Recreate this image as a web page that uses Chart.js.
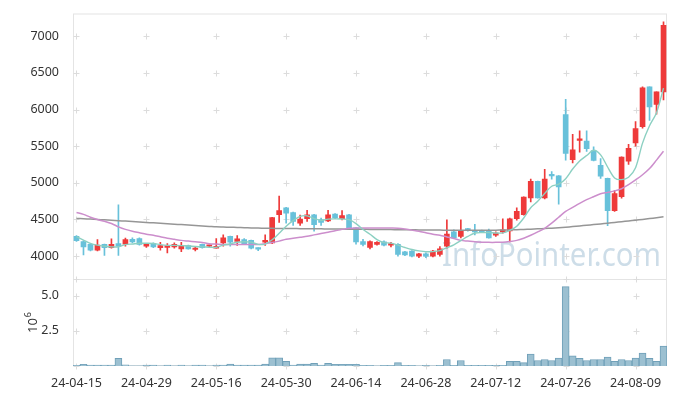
<!DOCTYPE html>
<html>
<head>
<meta charset="utf-8">
<script src="https://cdn.jsdelivr.net/npm/chart.js@4/dist/chart.umd.min.js"></script>
<style>
  html, body { margin: 0; padding: 0; background: #fff; }
  #wrap { width: 677px; height: 396px; }
</style>
</head>
<body>
<div id="wrap"><canvas id="chart" width="677" height="396"></canvas></div>
<script>
// trading days, 24-04-15 .. 24-08-16
const dates = [
  '24-04-15','24-04-16','24-04-17','24-04-18','24-04-19','24-04-22','24-04-23','24-04-24','24-04-25','24-04-26',
  '24-04-29','24-04-30','24-05-02','24-05-03','24-05-07','24-05-08','24-05-09','24-05-10','24-05-13','24-05-14',
  '24-05-16','24-05-17','24-05-20','24-05-21','24-05-22','24-05-23','24-05-24','24-05-27','24-05-28','24-05-29',
  '24-05-30','24-05-31','24-06-03','24-06-04','24-06-05','24-06-07','24-06-10','24-06-11','24-06-12','24-06-13',
  '24-06-14','24-06-17','24-06-18','24-06-19','24-06-20','24-06-21','24-06-24','24-06-25','24-06-26','24-06-27',
  '24-06-28','24-07-01','24-07-02','24-07-03','24-07-04','24-07-05','24-07-08','24-07-09','24-07-10','24-07-11',
  '24-07-12','24-07-15','24-07-16','24-07-17','24-07-18','24-07-19','24-07-22','24-07-23','24-07-24','24-07-25',
  '24-07-26','24-07-29','24-07-30','24-07-31','24-08-01','24-08-02','24-08-05','24-08-06','24-08-07','24-08-08',
  '24-08-09','24-08-12','24-08-13','24-08-14','24-08-16'
];

const opens = [
  4270,4200,4160,4080,4160,4115,4170,4165,4230,4240,
  4135,4170,4115,4120,4125,4100,4145,4090,4160,4135,
  4110,4180,4270,4200,4225,4215,4100,4190,4180,4565,
  4660,4595,4450,4510,4565,4500,4480,4575,4510,4565,
  4385,4200,4120,4160,4195,4150,4160,4060,4070,4000,
  4030,4000,4025,4135,4330,4270,4370,4340,4340,4340,
  4285,4330,4345,4510,4565,4795,5020,4795,5110,5095,
  5930,5315,5580,5570,5440,5240,5060,4620,4810,5295,
  5545,5765,6310,6070,6240
];
const highs = [
  4280,4210,4170,4225,4165,4235,4700,4245,4250,4250,
  4175,4180,4190,4170,4180,4190,4150,4130,4165,4150,
  4240,4290,4275,4280,4240,4220,4115,4290,4530,4820,
  4665,4600,4560,4625,4570,4520,4625,4580,4620,4570,
  4390,4230,4210,4200,4210,4190,4170,4065,4075,4040,
  4045,4080,4130,4495,4360,4495,4380,4435,4355,4370,
  4330,4510,4520,4660,4810,5050,5025,5185,5155,5100,
  6140,5660,5710,5710,5490,5330,5065,4895,5355,5525,
  5835,6310,6310,6240,7195
];
const lows = [
  4200,4015,4070,4070,4010,4110,4010,4135,4185,4150,
  4120,4115,4080,4045,4110,4060,4095,4070,4110,4125,
  4110,4135,4135,4145,4160,4100,4075,4145,4170,4460,
  4450,4420,4420,4475,4340,4420,4470,4510,4495,4380,
  4165,4140,4100,4150,4140,4125,4000,4005,3990,3980,
  3980,3990,4000,4110,4245,4250,4340,4290,4320,4245,
  4270,4315,4195,4490,4560,4740,4790,4780,5050,4710,
  5310,5270,5420,5430,5300,5060,4415,4610,4790,5250,
  5500,5745,5850,5935,6130
];
const closes = [
  4210,4125,4080,4150,4115,4160,4135,4225,4195,4160,
  4160,4125,4145,4145,4160,4145,4100,4110,4115,4140,
  4135,4250,4190,4235,4170,4110,4095,4215,4525,4620,
  4585,4475,4505,4565,4430,4460,4565,4520,4555,4385,
  4195,4160,4200,4190,4150,4165,4025,4015,4000,4030,
  4000,4070,4100,4300,4250,4340,4355,4330,4330,4250,
  4315,4360,4510,4610,4805,5020,4795,5050,5095,4945,
  5400,5450,5600,5465,5305,5090,4620,4855,5350,5470,
  5740,6295,6035,6240,7150
];

// moving averages
const ma5 = [
  4265,4220,4175,4150,4136,4126,4128,4157,4166,4175,
  4175,4173,4157,4147,4147,4144,4139,4132,4126,4122,
  4120,4150,4166,4190,4196,4191,4160,4165,4223,4313,
  4408,4484,4542,4550,4512,4487,4505,4508,4506,4497,
  4444,4363,4299,4226,4185,4178,4150,4118,4090,4072,
  4060,4062,4075,4115,4155,4212,4269,4315,4321,4321,
  4316,4317,4353,4409,4520,4661,4748,4856,4953,4981,
  5057,5188,5298,5372,5444,5382,5216,5067,5044,5077,
  5207,5542,5778,5956,6292
];
const ma20 = [
  4595,4570,4530,4500,4475,4445,4400,4365,4340,4320,
  4300,4285,4265,4245,4230,4215,4205,4195,4185,4170,
  4165,4160,4160,4160,4160,4160,4160,4170,4185,4205,
  4230,4245,4258,4270,4290,4308,4325,4345,4365,4380,
  4385,4385,4385,4385,4385,4383,4380,4370,4355,4340,
  4320,4300,4285,4262,4240,4215,4205,4195,4190,4188,
  4188,4190,4200,4215,4245,4285,4330,4380,4450,4530,
  4610,4665,4720,4770,4810,4850,4870,4890,4920,4975,
  5040,5110,5195,5310,5430
];
const ma60 = [
  4515,4510,4505,4500,4495,4490,4484,4478,4472,4466,
  4460,4454,4448,4442,4436,4430,4424,4418,4412,4406,
  4400,4397,4394,4391,4388,4385,4383,4381,4379,4378,
  4377,4376,4375,4374,4373,4372,4371,4370,4369,4368,
  4367,4366,4365,4364,4363,4362,4361,4360,4359,4358,
  4357,4356,4355,4354,4353,4352,4352,4352,4352,4353,
  4354,4356,4358,4361,4364,4368,4372,4377,4382,4388,
  4395,4403,4412,4421,4430,4440,4450,4460,4470,4480,
  4490,4500,4512,4524,4538
];

// volume, millions of shares
const volumes = [
  0.05,0.12,0.06,0.06,0.07,0.06,0.55,0.08,0.02,0.02,
  0.06,0.06,0.02,0.06,0.02,0.06,0.02,0.06,0.06,0.02,
  0.06,0.06,0.14,0.06,0.06,0.06,0.06,0.14,0.58,0.58,
  0.34,0.06,0.14,0.14,0.19,0.06,0.19,0.12,0.12,0.12,
  0.12,0.05,0.05,0.02,0.05,0.05,0.24,0.05,0.05,0.02,
  0.05,0.02,0.05,0.46,0.05,0.39,0.05,0.05,0.05,0.05,
  0.05,0.05,0.33,0.33,0.24,0.85,0.39,0.46,0.39,0.57,
  5.65,0.73,0.54,0.39,0.46,0.46,0.64,0.33,0.46,0.39,
  0.57,0.92,0.54,0.33,1.41
];

const priceTicks = [4000, 4500, 5000, 5500, 6000, 6500, 7000];
const volTicks = [2.5, 5.0];

const UP = 'rgb(238,58,58)';
const DOWN = 'rgb(104,193,218)';
const TXT = '#333';
const FONT = {family: "'Noto Sans', sans-serif", size: 12.5};

const candleColors = closes.map((c, i) => c >= opens[i] ? UP : DOWN);
const bodies = opens.map((o, i) => [o, closes[i]]);
const wicks = lows.map((l, i) => [l, highs[i]]);

// frame, "+" grid marks and the watermark, all under the data
const backdrop = {
  id: 'backdrop',
  beforeDatasetsDraw(chart) {
    const ctx = chart.ctx;
    const a = chart.chartArea;
    const xs = chart.scales.x, ys = chart.scales.y, vs = chart.scales.v;
    ctx.save();

    ctx.font = "33px 'Noto Sans', sans-serif";
    ctx.fillStyle = 'rgba(196,215,228,0.85)';
    ctx.textBaseline = 'alphabetic';
    ctx.fillText('InfoPointer.com', 442, 266, 219);

    ctx.strokeStyle = '#e4e4e4';
    ctx.lineWidth = 1;
    ctx.strokeRect(a.left + 0.5, a.top + 0.5, a.width - 1, a.height - 1);
    ctx.beginPath();
    ctx.moveTo(a.left, Math.round(ys.bottom) + 0.5);
    ctx.lineTo(a.right, Math.round(ys.bottom) + 0.5);
    ctx.stroke();

    const rows = ys.ticks.map(t => ys.getPixelForValue(t.value))
      .concat(vs.ticks.map(t => vs.getPixelForValue(t.value)))
      .concat([ys.bottom, vs.bottom]);
    ctx.strokeStyle = '#dcdcdc';
    ctx.beginPath();
    xs.ticks.forEach(t => {
      const px = Math.round(xs.getPixelForValue(t.value)) + 0.5;
      rows.forEach(py => {
        py = Math.round(py) + 0.5;
        ctx.moveTo(px - 3, py); ctx.lineTo(px + 3, py);
        ctx.moveTo(px, py - 3); ctx.lineTo(px, py + 3);
      });
    });
    ctx.stroke();
    ctx.restore();
  },
  afterDraw(chart) {
    const ctx = chart.ctx;
    ctx.save();
    ctx.translate(37, 333);
    ctx.rotate(-Math.PI / 2);
    ctx.fillStyle = TXT;
    ctx.textBaseline = 'alphabetic';
    ctx.font = "13px 'Noto Sans', sans-serif";
    ctx.fillText('10', 0, 0);
    const w = ctx.measureText('10').width;
    ctx.font = "9px 'Noto Sans', sans-serif";
    ctx.fillText('6', w + 1, -6);
    ctx.restore();
  }
};

new Chart(document.getElementById('chart'), {
  data: {
    labels: dates,
    datasets: [
      {type: 'line', label: 'MA5', data: ma5, yAxisID: 'y', order: 0,
       borderColor: 'rgb(140,208,194)', borderWidth: 1.4, pointRadius: 0, tension: 0.3},
      {type: 'line', label: 'MA20', data: ma20, yAxisID: 'y', order: 0,
       borderColor: 'rgb(204,142,204)', borderWidth: 1.5, pointRadius: 0, tension: 0.3},
      {type: 'line', label: 'MA60', data: ma60, yAxisID: 'y', order: 0,
       borderColor: 'rgb(150,150,150)', borderWidth: 1.5, pointRadius: 0, tension: 0.3},
      {type: 'bar', label: 'body', data: bodies, yAxisID: 'y', order: 1, grouped: false,
       backgroundColor: candleColors, barThickness: 5, minBarLength: 1.5, borderWidth: 0},
      {type: 'bar', label: 'wick', data: wicks, yAxisID: 'y', order: 2, grouped: false,
       backgroundColor: candleColors, barThickness: 1, borderWidth: 0},
      {type: 'bar', label: 'volume', data: volumes, yAxisID: 'v', order: 3, grouped: false,
       backgroundColor: 'rgb(156,192,209)', borderColor: 'rgb(112,160,184)', borderWidth: 1,
       barPercentage: 1, categoryPercentage: 1}
    ]
  },
  options: {
    responsive: false,
    animation: false,
    layout: {padding: {top: 10, right: 10, left: 0, bottom: 0}},
    plugins: {legend: {display: false}, tooltip: {enabled: false}},
    scales: {
      x: {
        type: 'category',
        offset: true,
        grid: {display: false},
        border: {display: false},
        ticks: {color: TXT, font: FONT, autoSkip: false, maxRotation: 0, padding: 2},
        afterBuildTicks: s => { s.ticks = s.ticks.filter(t => t.value % 10 === 0); },
        afterFit: s => { s.height = 30; }
      },
      // left boxes are stacked in reverse order: volume first puts it at the bottom
      v: {
        type: 'linear',
        position: 'left',
        stack: 'panels',
        stackWeight: 88,
        min: 0,
        max: 6.2,
        grid: {display: false},
        border: {display: false},
        ticks: {color: TXT, font: FONT, padding: 6, callback: v => v.toFixed(1)},
        afterBuildTicks: s => { s.ticks = volTicks.map(v => ({value: v})); },
        afterFit: s => { s.width = 73; }
      },
      y: {
        type: 'linear',
        position: 'left',
        stack: 'panels',
        stackWeight: 268,
        min: 3690,
        max: 7310,
        grid: {display: false},
        border: {display: false},
        ticks: {color: TXT, font: FONT, padding: 6, callback: v => String(v)},
        afterBuildTicks: s => { s.ticks = priceTicks.map(v => ({value: v})); },
        afterFit: s => { s.width = 73; }
      }
    }
  },
  plugins: [backdrop]
});
</script>
</body>
</html>
